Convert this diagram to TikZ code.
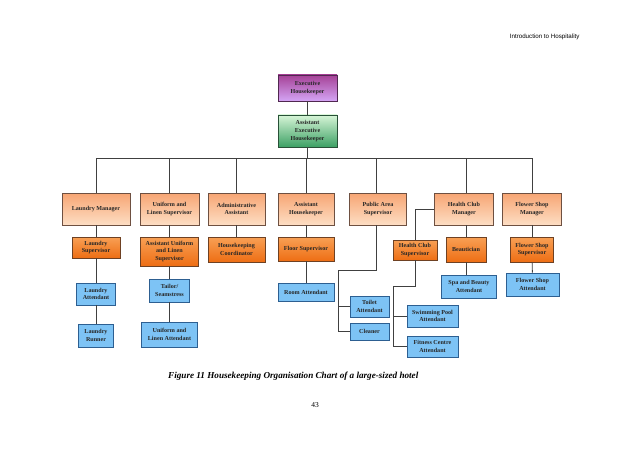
\documentclass[tikz,border=0pt]{standalone}
\usepackage{fontspec}
\setmainfont{Liberation Serif}
\newfontfamily\hdrfont{Liberation Sans}
\definecolor{exectop}{RGB}{165,65,150}
\definecolor{execbot}{RGB}{212,165,245}
\definecolor{exborder}{RGB}{80,40,80}
\definecolor{aextop}{RGB}{215,245,215}
\definecolor{aexbot}{RGB}{60,160,100}
\definecolor{aexborder}{RGB}{40,80,55}
\definecolor{o2top}{RGB}{247,165,115}
\definecolor{o2bot}{RGB}{253,222,196}
\definecolor{o2border}{RGB}{110,80,65}
\definecolor{o3top}{RGB}{248,160,85}
\definecolor{o3bot}{RGB}{238,110,20}
\definecolor{o3border}{RGB}{110,65,35}
\definecolor{bfill}{RGB}{125,195,245}
\definecolor{bborder}{RGB}{45,95,145}
\begin{document}
\begin{tikzpicture}[x=1pt,y=-1pt,
  box/.style={draw, line width=0.8pt, align=center, inner sep=0pt,
    font=\bfseries\fontsize{6.1}{7.6}\selectfont, text=black!85},
  lvtop/.style={box, draw=o2border, top color=o2top, bottom color=o2bot},
  lvmid/.style={box, draw=o3border, top color=o3top, bottom color=o3bot},
  lvbot/.style={box, draw=bborder, fill=bfill},
  conn/.style={draw=black!75, line width=0.9pt}
]
\useasboundingbox (0,0) rectangle (638,452);
\fill[white] (0,0) rectangle (638,452);

\node[font=\hdrfont\fontsize{6.2}{7}\selectfont, anchor=east] (hdr) at (583,37) {Introduction to Hospitality};

% top
\node[box, draw=exborder, top color=exectop, bottom color=execbot,
  minimum width=59pt, minimum height=26pt] (exec) at (307.5,88) {Executive\\Housekeeper};
\node[box, draw=aexborder, top color=aextop, bottom color=aexbot,
  minimum width=59pt, minimum height=32pt] (aexec) at (307.5,131) {Assistant\\Executive\\Housekeeper};

% level 2
\node[lvtop, minimum width=68pt, minimum height=32pt] (lm) at (96,209) {Laundry Manager};
\node[lvtop, minimum width=59pt, minimum height=32pt] (ulsup) at (169.5,209) {Uniform and\\Linen Supervisor};
\node[lvtop, minimum width=57pt, minimum height=32pt] (admin) at (236.5,209) {Administrative\\Assistant};
\node[lvtop, minimum width=56pt, minimum height=32pt] (ahk) at (306,209) {Assistant\\Housekeeper};
\node[lvtop, minimum width=57pt, minimum height=32pt] (pas) at (378,209) {Public Area\\Supervisor};
\node[lvtop, minimum width=59pt, minimum height=32pt] (hcm) at (464,209) {Health Club\\Manager};
\node[lvtop, minimum width=59pt, minimum height=32pt] (fsm) at (532,209) {Flower Shop\\Manager};

% level 3
\node[lvmid, minimum width=48pt, minimum height=21pt] (ls) at (96,247.5) {Laundry\\Supervisor};
\node[lvmid, minimum width=58pt, minimum height=29pt] (aulsup) at (169.5,251.5) {Assistant Uniform\\and Linen\\Supervisor};
\node[lvmid, minimum width=57pt, minimum height=25pt] (hkc) at (236.5,249.5) {Housekeeping\\Coordinator};
\node[lvmid, minimum width=56pt, minimum height=24pt] (fs) at (306,249) {Floor Supervisor};
\node[lvmid, minimum width=44pt, minimum height=20pt] (hcs) at (415,250) {Health Club\\Supervisor};
\node[lvmid, minimum width=40pt, minimum height=25pt] (beau) at (466,249.5) {Beautician};
\node[lvmid, minimum width=43pt, minimum height=25pt] (fss) at (532,249.5) {Flower Shop\\Supervisor};

% level 4
\node[lvbot, minimum width=39pt, minimum height=22pt] (la) at (96,294) {Laundry\\Attendant};
\node[lvbot, minimum width=35pt, minimum height=23pt] (lr) at (96,335.5) {Laundry\\Runner};
\node[lvbot, minimum width=40pt, minimum height=23pt] (ts) at (169.5,290.5) {Tailor/\\Seamstress};
\node[lvbot, minimum width=56pt, minimum height=25pt] (ula) at (169.5,334.5) {Uniform and\\Linen Attendant};
\node[lvbot, minimum width=56pt, minimum height=18pt] (ra) at (306,292) {Room Attendant};
\node[lvbot, minimum width=39pt, minimum height=21pt] (ta) at (369.5,306.5) {Toilet\\Attendant};
\node[lvbot, minimum width=39pt, minimum height=17pt] (cl) at (369.5,331.5) {Cleaner};
\node[lvbot, minimum width=51pt, minimum height=22pt] (sp) at (432.5,316) {Swimming Pool\\Attendant};
\node[lvbot, minimum width=51pt, minimum height=21pt] (fc) at (432.5,346.5) {Fitness Centre\\Attendant};
\node[lvbot, minimum width=55pt, minimum height=23pt] (sba) at (469,286.5) {Spa and Beauty\\Attendant};
\node[lvbot, minimum width=53pt, minimum height=23pt] (fsa) at (532.5,284.5) {Flower Shop\\Attendant};

% connectors
\coordinate (bus) at (307.5,158);
\coordinate (pa1) at (338,270);
\coordinate (hc1) at (393,286);
\draw[conn] (exec) -- (aexec);
\draw[conn] (aexec.south) -- (bus);
\draw[conn] (bus -| lm) -- (bus -| fsm);
\foreach \n in {lm,ulsup,admin,ahk,fsm}{\draw[conn] (bus -| \n) -- (\n.north);}
\draw[conn] (bus -| 376,0) -- (pas.north -| 376,0);
\draw[conn] (bus -| 466,0) -- (hcm.north -| 466,0);
\draw[conn] (lm) -- (ls); \draw[conn] (ls) -- (la); \draw[conn] (la) -- (lr);
\draw[conn] (ulsup) -- (aulsup); \draw[conn] (aulsup) -- (ts); \draw[conn] (ts) -- (ula);
\draw[conn] (admin) -- (hkc);
\draw[conn] (ahk) -- (fs); \draw[conn] (fs) -- (ra);
\draw[conn] (hcm.south -| beau) -- (beau); \draw[conn] (beau.south) -- (beau.south |- sba.north);
\draw[conn] (fsm) -- (fss); \draw[conn] (fss) -- (fsa);
\draw[conn] (pas.south -| 376,0) |- (pa1) |- (cl.west);
\draw[conn] (pa1 |- ta.west) -- (ta.west);
\draw[conn] (hcm.west) -| (hcs.north);
\draw[conn] (hcs.south) |- (hc1) |- (fc.west);
\draw[conn] (hc1 |- sp.west) -- (sp.west);

% caption
\node[anchor=west, font=\bfseries\itshape\fontsize{9.15}{10}\selectfont, inner sep=0pt] (cap) at (168,376)
  {Figure 11 Housekeeping Organisation Chart of a large-sized hotel};
\node[font=\fontsize{7.5}{9}\selectfont] (pg) at (315,405) {43};
\end{tikzpicture}
\end{document}
